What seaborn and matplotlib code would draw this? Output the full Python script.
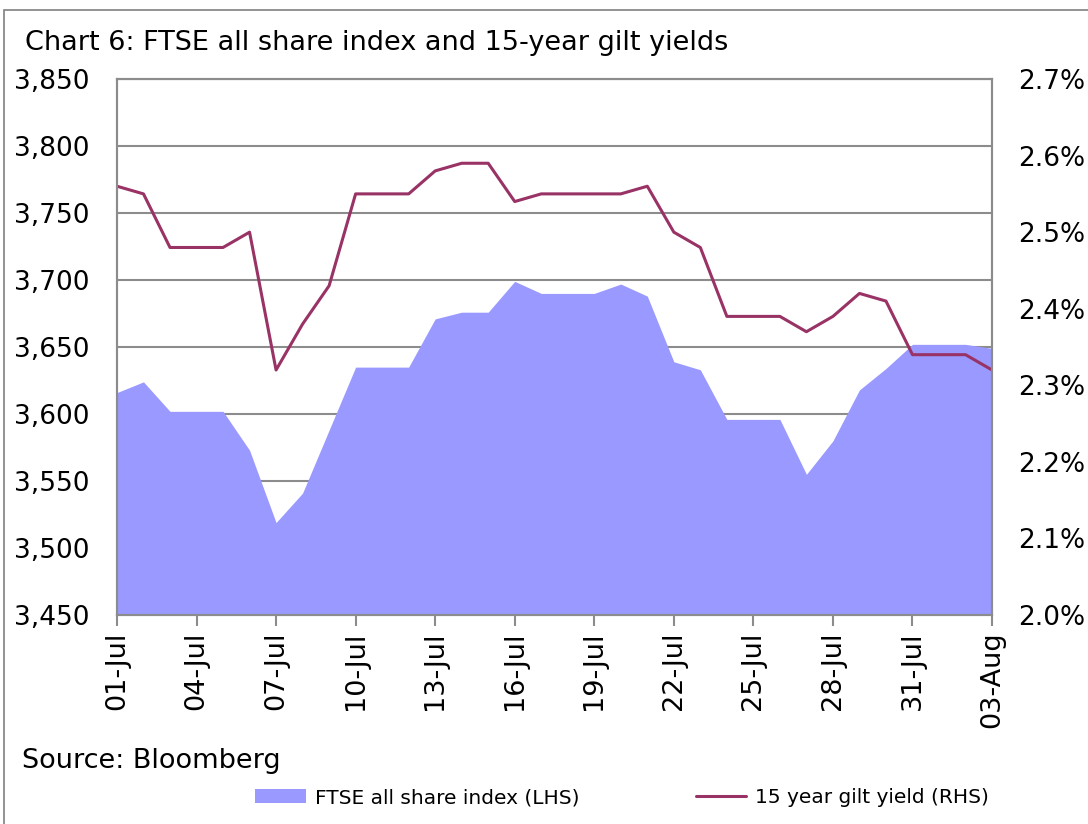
import numpy as np
import pandas as pd
import matplotlib
matplotlib.use("Agg")
import matplotlib.pyplot as plt
import seaborn as sns
from matplotlib.patches import Patch, Rectangle
from matplotlib.lines import Line2D
from matplotlib.ticker import FuncFormatter

# ======================
# data
# ======================
dates = pd.date_range("2012-07-01", "2012-08-03", freq="D")
day_labels = [d.strftime("%d-%b") for d in dates]

ftse = [3616, 3624, 3602, 3602, 3602, 3573, 3519, 3541, 3588, 3635,
        3635, 3635, 3671, 3676, 3676, 3699, 3690, 3690, 3690, 3697,
        3688, 3639, 3633, 3596, 3596, 3596, 3555, 3580, 3618, 3634,
        3652, 3652, 3652, 3649]

gilt = [2.56, 2.55, 2.48, 2.48, 2.48, 2.50, 2.32, 2.38, 2.43, 2.55,
        2.55, 2.55, 2.58, 2.59, 2.59, 2.54, 2.55, 2.55, 2.55, 2.55,
        2.56, 2.50, 2.48, 2.39, 2.39, 2.39, 2.37, 2.39, 2.42, 2.41,
        2.34, 2.34, 2.34, 2.32]

df = pd.DataFrame({"day": np.arange(len(dates)), "label": day_labels,
                   "ftse": ftse, "gilt": gilt})

area_color = "#9999FF"
line_color = "#993366"
grid_color = "#8C8C8C"

sns.set_theme(style="white")
plt.rcParams["font.family"] = ["DejaVu Sans"]
plt.rcParams["text.color"] = "black"
plt.rcParams["xtick.color"] = "black"
plt.rcParams["ytick.color"] = "black"

fig = plt.figure(figsize=(10.88, 8.24), dpi=100)
ax = fig.add_axes([0.1075, 0.2536, 0.8043, 0.6505])

# FTSE area (LHS)
ax.fill_between(df["day"], df["ftse"], 3450, color=area_color, lw=0, zorder=2)
ax.set_ylim(3450, 3850)
ax.set_yticks(np.arange(3450, 3851, 50))
ax.yaxis.set_major_formatter(FuncFormatter(lambda v, p: f"{v:,.0f}"))
ax.set_xlim(0, len(dates) - 1)
ax.set_xticks(df["day"][::3])
ax.set_xticklabels(df["label"][::3], rotation=90)
ax.grid(axis="y", color=grid_color, lw=1.5, zorder=1)
ax.set_axisbelow(True)
ax.set_xlabel("")
ax.set_ylabel("")

# gilt line (RHS)
ax2 = ax.twinx()
sns.lineplot(data=df, x="day", y="gilt", ax=ax2, color=line_color, lw=2.2)
ax2.set_ylim(2.0, 2.7)
ax2.set_yticks(np.arange(2.0, 2.71, 0.1))
ax2.yaxis.set_major_formatter(FuncFormatter(lambda v, p: f"{v:.1f}%"))
ax2.set_xlim(0, len(dates) - 1)
ax2.set_xlabel("")
ax2.set_ylabel("")
ax2.grid(False)

for a in (ax, ax2):
    for s in a.spines.values():
        s.set_color(grid_color)
        s.set_linewidth(1.5)
ax.tick_params(axis="y", length=0, labelsize=19, pad=19.5, labelcolor="black")
ax.tick_params(axis="x", length=8, width=1.5, color=grid_color,
               labelsize=19.5, pad=4, bottom=True, labelcolor="black")
ax2.tick_params(axis="y", length=0, labelsize=19, pad=18.5, labelcolor="black")

fig.text(0.023, 0.948, "Chart 6: FTSE all share index and 15-year gilt yields",
         fontsize=19.5, va="center", ha="left", color="black")
fig.text(0.020, 0.077, "Source: Bloomberg", fontsize=19.5, va="center",
         ha="left", color="black")

handles = [Patch(facecolor=area_color, edgecolor="none"),
           Line2D([0], [0], color=line_color, lw=2.2)]
leg = fig.legend(handles, ["FTSE all share index (LHS)", "15 year gilt yield (RHS)"],
                 loc="center", bbox_to_anchor=(0.572, 0.032), ncol=2, frameon=False,
                 fontsize=14.5, handlelength=2.5, handletextpad=0.45,
                 columnspacing=5.8)
for t in leg.get_texts():
    t.set_color("black")

# outer border of the chart object
fig.patches.append(Rectangle((0.004, -0.02), 1.2, 1.008, transform=fig.transFigure,
                             fill=False, edgecolor="#808080", lw=1.2))

fig.savefig("out.png", dpi=100)
